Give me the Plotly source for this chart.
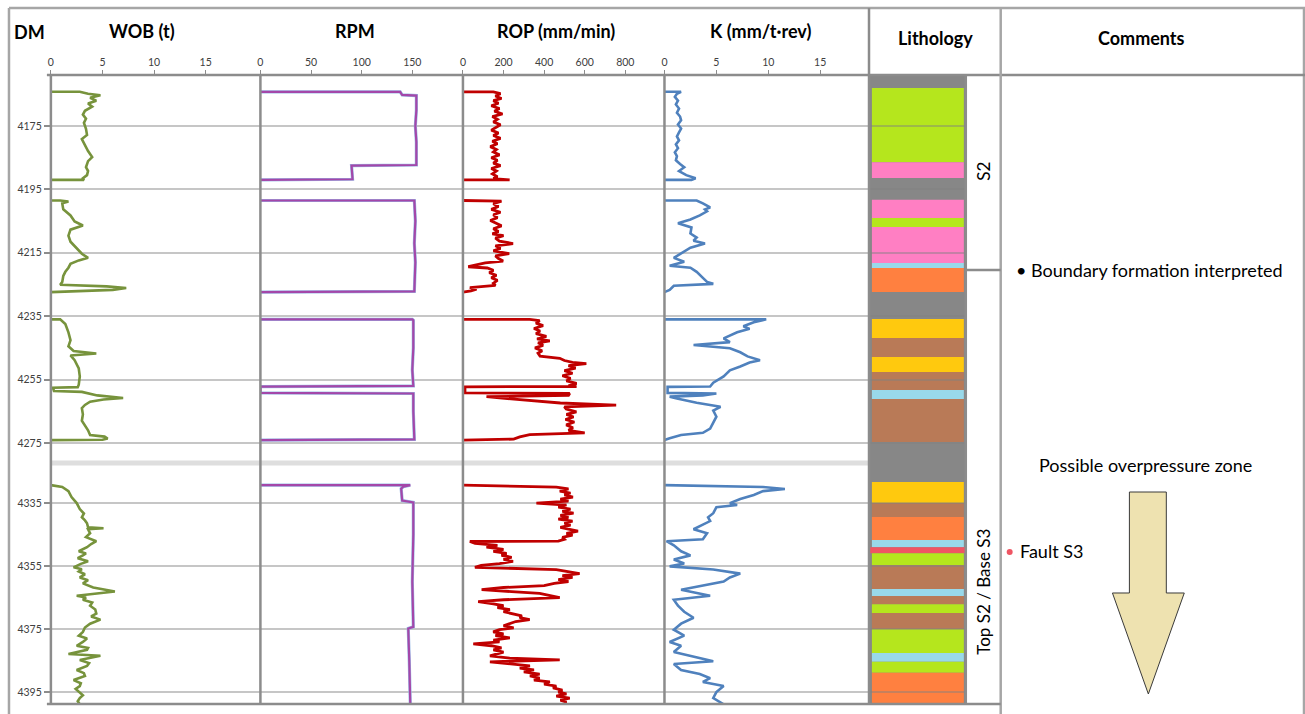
import plotly.graph_objects as go

W, H = 1305, 714
FONT = "Lato"

# ---------------------------------------------------------------------------
# Drilling parameters against measured depth (m). None separates drilled runs.
# ---------------------------------------------------------------------------
wob_md = [
    4164.2, 4164.2, 4164.8, 4165.3, 4166.1, 4167.0, 4167.9, 4168.9, 4170.2, 4171.4,
    4172.7, 4174.0, 4175.9, 4177.8, 4179.1, 4181.0, 4182.9, 4184.8, 4186.1, 4188.0,
    4189.2, 4190.5, 4191.5, 4192.0, 4192.0, None,
    4198.5, 4198.5, 4198.8, 4199.4, 4201.3, 4203.2, 4205.1, 4206.4, 4207.7, 4209.6,
    4211.5, 4213.4, 4215.3, 4216.6, 4217.4, 4218.5, 4219.7, 4221.0, 4222.3, 4224.2,
    4225.1, 4225.6, 4226.1, 4226.7, 4227.4, None,
    4236.0, 4236.0, 4237.5, 4240.1, 4242.6, 4244.5, 4246.0, 4246.8, 4247.4, 4248.9,
    4251.5, 4254.0, 4256.6, 4257.4, 4257.6, 4258.6, 4258.9, 4260.0, 4260.8, 4261.3,
    4262.0, 4263.0, 4264.0, 4266.0, 4268.0, 4269.5, 4271.0, 4272.5, 4273.0, 4273.6,
    4274.0, 4274.1, None,
    4329.3, 4329.9, 4331.2, 4333.1, 4335.0, 4336.9, 4338.3, 4339.5, 4340.5, 4341.4,
    4342.7, 4343.0, 4343.3, 4344.6, 4345.8, 4347.1, 4348.0, 4349.0, 4350.3, 4351.0,
    4351.6, 4352.5, 4353.5, 4354.3, 4355.4, 4356.0, 4356.7, 4357.6, 4358.6, 4359.5,
    4360.5, 4361.8, 4363.1, 4364.4, 4365.0, 4365.7, 4366.6, 4367.6, 4368.8, 4370.1,
    4371.0, 4372.0, 4373.3, 4374.5, 4375.9, 4377.1, 4378.0, 4379.1, 4380.3, 4381.0,
    4381.6, 4382.9, 4383.5, 4384.8, 4385.8, 4386.7, 4388.0, 4389.0, 4389.9, 4391.2,
    4392.2, 4393.1, 4394.0, 4395.0, 4396.0, 4396.9, 4397.9, 4398.9,
]
wob_t = [
    0, 2.8, 3.6, 4.8, 3.8, 4.4, 3.6, 4.0, 3.3, 3.1,
    3.4, 3.2, 3.4, 3.5, 3.0, 3.3, 3.6, 4.0, 3.6, 3.4,
    3.6, 3.5, 3.1, 3.2, 0, None,
    0, 0.9, 1.7, 1.1, 1.2, 1.9, 2.3, 3.1, 1.9, 1.7,
    1.9, 2.5, 3.0, 3.6, 2.7, 1.9, 1.7, 1.4, 1.2, 1.1,
    0.9, 5.4, 7.3, 6.0, 0, None,
    0, 0.9, 1.4, 1.7, 1.9, 1.7, 2.2, 4.4, 1.9, 2.3,
    2.7, 2.8, 2.7, 2.6, 0.2, 0.3, 3.0, 4.5, 7.0, 5.1,
    3.8, 3.3, 3.0, 3.1, 3.0, 3.3, 3.6, 3.8, 5.2, 5.5,
    5.0, 0, None,
    0, 1.1, 1.7, 2.0, 2.5, 2.8, 3.2, 3.0, 3.3, 3.5,
    3.6, 5.1, 3.6, 3.8, 3.4, 4.4, 3.9, 3.5, 2.7, 3.4,
    3.1, 2.6, 3.6, 2.9, 2.2, 3.0, 2.7, 3.3, 2.8, 3.6,
    3.1, 4.1, 6.2, 2.5, 3.4, 3.1, 4.0, 3.8, 4.3, 4.4,
    3.9, 4.8, 3.8, 3.3, 3.1, 2.7, 3.5, 3.1, 2.5, 3.6,
    3.5, 1.7, 4.8, 2.8, 3.7, 3.5, 2.5, 3.2, 3.3, 2.2,
    2.9, 2.8, 2.4, 2.7, 3.1, 2.8, 2.6, 2.8,
]

rpm_md = [
    4164.2, 4164.2, 4165.2, 4165.4, 4170.0, 4175.0, 4180.0, 4187.3, 4187.5, 4191.8, 4192.0, None,
    4198.5, 4198.5, 4205.0, 4212.0, 4218.0, 4226.0, 4227.2, 4227.4, None,
    4236.0, 4236.0, 4236.3, 4245.0, 4252.0, 4257.0, 4257.2, 4259.2, 4259.4, 4265.0, 4273.9, 4274.1, None,
    4329.3, 4329.3, 4329.8, 4330.4, 4334.2, 4334.8, 4345.0, 4360.0, 4374.3, 4374.8, 4385.0, 4398.9,
]
rpm = [
    0, 138, 140, 154, 154, 153, 154, 154, 90, 91, 0, None,
    0, 152, 153, 152, 153, 152, 152, 0, None,
    0, 150, 151, 151, 150, 151, 0, 0, 151, 151, 152, 0, None,
    0, 148, 141, 139, 140, 151, 151, 150, 151, 146, 147, 148,
]

rop_md = [
    4164.2, 4164.2, 4164.8, 4165.5, 4166.3, 4167.0, 4167.8, 4168.6, 4169.5, 4170.3,
    4171.2, 4172.0, 4172.9, 4173.7, 4174.6, 4175.5, 4176.3, 4177.2, 4178.0, 4178.9,
    4179.8, 4180.6, 4181.5, 4182.4, 4183.2, 4184.1, 4185.0, 4185.8, 4186.7, 4187.5,
    4188.4, 4189.2, 4190.1, 4191.0, 4191.6, 4192.0, 4192.0, None,
    4198.5, 4198.5, 4198.7, 4199.5, 4200.4, 4201.3, 4202.2, 4203.0, 4203.9, 4204.8,
    4205.7, 4206.5, 4207.4, 4208.3, 4209.0, 4209.6, 4210.4, 4211.3, 4212.1, 4212.8,
    4213.6, 4214.4, 4215.3, 4216.0, 4216.8, 4217.6, 4218.2, 4218.9, 4219.4, 4219.8,
    4220.5, 4221.3, 4222.1, 4222.9, 4223.7, 4224.6, 4225.3, 4226.0, 4226.5, 4227.0,
    4227.4, None,
    4236.0, 4236.0, 4236.4, 4237.2, 4238.0, 4238.9, 4239.7, 4240.5, 4241.4, 4242.2,
    4242.8, 4243.4, 4244.2, 4245.0, 4245.9, 4246.7, 4247.6, 4248.3, 4249.0, 4249.6,
    4250.0, 4250.6, 4251.4, 4252.2, 4253.0, 4253.8, 4254.6, 4255.4, 4256.2, 4257.0,
    4257.2, 4257.3, 4259.2, 4259.4, 4260.0, 4260.4, 4260.8, 4261.6, 4262.4, 4263.1,
    4263.6, 4264.3, 4265.2, 4266.0, 4266.8, 4267.6, 4268.4, 4269.3, 4270.2, 4271.0,
    4271.8, 4272.4, 4273.1, 4273.8, 4274.1, None,
    4329.3, 4329.5, 4329.9, 4330.5, 4331.2, 4331.8, 4332.4, 4333.1, 4333.7, 4334.4,
    4335.0, 4335.6, 4336.3, 4336.9, 4337.6, 4338.2, 4338.9, 4339.5, 4340.1, 4340.7,
    4341.4, 4342.0, 4342.7, 4343.3, 4343.9, 4344.6, 4345.2, 4345.9, 4346.5, 4347.1,
    4347.2, 4347.8, 4348.4, 4349.0, 4349.7, 4350.3, 4351.0, 4351.6, 4352.2, 4352.9,
    4353.5, 4354.2, 4354.8, 4355.4, 4356.1, 4356.7, 4357.4, 4358.0, 4358.6, 4359.3,
    4359.9, 4360.5, 4361.2, 4361.8, 4362.5, 4363.1, 4363.7, 4364.4, 4365.0, 4365.7,
    4366.3, 4367.0, 4367.6, 4368.2, 4368.8, 4369.5, 4370.1, 4370.8, 4371.4, 4372.0,
    4372.6, 4373.3, 4374.0, 4374.6, 4375.2, 4375.9, 4376.5, 4377.1, 4377.8, 4378.5,
    4379.1, 4379.7, 4380.3, 4381.0, 4381.6, 4382.3, 4382.9, 4383.5, 4384.2, 4384.8,
    4385.4, 4386.1, 4386.7, 4387.4, 4388.0, 4388.6, 4389.3, 4389.9, 4390.6, 4391.2,
    4391.8, 4392.5, 4393.1, 4393.7, 4394.4, 4395.0, 4395.6, 4396.3, 4396.9, 4397.6,
    4398.2, 4398.9,
]
rop = [
    0, 150, 185, 160, 190, 150, 175, 140, 180, 155,
    195, 145, 170, 150, 185, 160, 140, 175, 150, 185,
    145, 170, 135, 165, 150, 180, 140, 170, 150, 185,
    140, 165, 145, 170, 150, 230, 0, None,
    0, 140, 190, 150, 175, 140, 185, 150, 170, 135,
    165, 190, 150, 175, 145, 200, 160, 180, 247, 160,
    185, 150, 228, 160, 175, 198, 110, 59, 26, 120,
    150, 130, 165, 140, 170, 150, 160, 34, 67, 40,
    0, None,
    0, 329, 378, 360, 395, 350, 380, 360, 411, 365,
    428, 370, 395, 355, 390, 370, 380, 477, 500, 540,
    608, 520, 555, 500, 540, 490, 530, 510, 560, 520,
    560, 10, 10, 526, 520, 116, 180, 329, 480, 755,
    500, 509, 559, 510, 545, 505, 549, 509, 542, 520,
    600, 329, 280, 250, 0, None,
    0, 215, 460, 520, 477, 530, 500, 542, 480, 520,
    362, 510, 470, 530, 490, 545, 480, 520, 470, 540,
    500, 530, 480, 520, 567, 510, 540, 490, 500, 470,
    34, 60, 170, 116, 200, 150, 215, 190, 240, 200,
    247, 180, 90, 59, 460, 510, 575, 490, 540, 470,
    520, 450, 400, 200, 92, 240, 378, 430, 477, 200,
    75, 150, 200, 170, 231, 200, 250, 290, 280, 329,
    260, 230, 200, 250, 180, 149, 200, 160, 231, 150,
    180, 51, 140, 190, 150, 200, 160, 133, 230, 477,
    133, 250, 330, 280, 350, 300, 378, 330, 378, 350,
    428, 400, 460, 444, 490, 470, 510, 460, 526, 480,
    510, 490,
]

k_md = [
    4164.2, 4164.2, 4164.8, 4165.8, 4167.0, 4168.2, 4169.5, 4170.8, 4172.0, 4173.2,
    4174.5, 4175.8, 4177.0, 4178.3, 4179.5, 4180.8, 4182.0, 4183.3, 4184.5, 4185.8,
    4187.0, 4188.0, 4189.2, 4190.5, 4191.5, 4192.0, 4192.0, None,
    4198.5, 4198.5, 4199.4, 4200.7, 4201.3, 4201.9, 4203.2, 4204.5, 4205.7, 4207.0,
    4208.9, 4210.2, 4211.2, 4212.1, 4213.4, 4214.6, 4216.6, 4217.8, 4219.1, 4219.7,
    4221.0, 4222.9, 4224.2, 4224.8, 4225.4, 4226.7, 4227.4, None,
    4236.0, 4236.0, 4236.9, 4238.2, 4239.0, 4240.1, 4242.0, 4243.2, 4244.1, 4245.1,
    4246.4, 4247.7, 4248.9, 4249.6, 4250.9, 4252.1, 4254.0, 4256.0, 4257.2, 4257.3,
    4259.2, 4259.4, 4260.0, 4260.4, 4261.0, 4262.3, 4263.6, 4264.8, 4266.7, 4268.6,
    4270.5, 4271.8, 4272.5, 4273.5, 4274.1, None,
    4329.3, 4329.5, 4329.9, 4330.5, 4331.2, 4332.4, 4333.7, 4335.0, 4335.6, 4336.3,
    4338.2, 4339.5, 4340.7, 4342.0, 4342.7, 4343.3, 4344.6, 4346.5, 4347.1, 4348.4,
    4350.3, 4351.6, 4352.9, 4354.2, 4355.1, 4356.1, 4357.4, 4358.6, 4359.9, 4361.2,
    4362.5, 4364.4, 4365.7, 4367.6, 4369.5, 4371.4, 4373.3, 4375.2, 4377.1, 4379.1,
    4380.3, 4382.3, 4384.2, 4385.2, 4386.1, 4388.0, 4389.3, 4390.6, 4391.8, 4393.1,
    4395.0, 4396.9, 4398.9,
]
k_val = [
    0, 1.6, 1.2, 1.0, 1.3, 1.1, 1.4, 1.2, 1.5, 1.6,
    1.3, 1.6, 1.4, 1.2, 1.4, 1.1, 1.3, 1.0, 1.2, 1.1,
    1.5, 1.9, 1.4, 2.1, 3.0, 2.6, 0, None,
    0, 3.1, 3.7, 4.4, 3.9, 4.1, 3.4, 2.5, 1.3, 2.6,
    2.5, 3.1, 2.8, 3.9, 2.5, 1.9, 0.9, 1.9, 0.5, 2.5,
    3.1, 3.7, 4.1, 4.7, 0.9, 0.5, 0, None,
    0, 9.8, 8.6, 7.6, 8.2, 7.0, 5.7, 6.3, 2.8, 6.3,
    7.3, 8.0, 9.2, 8.2, 7.3, 6.3, 5.7, 4.7, 4.4, 0.3,
    0.3, 5.0, 3.7, 0.5, 1.2, 3.1, 5.4, 4.7, 5.0, 4.7,
    4.4, 3.7, 1.6, 0.5, 0, None,
    0, 4.1, 9.5, 11.6, 9.5, 8.6, 7.3, 6.3, 7.0, 5.0,
    4.7, 4.2, 4.4, 3.6, 3.1, 2.8, 4.1, 3.7, 0.2, 0.9,
    1.6, 2.5, 0.9, 1.9, 0.5, 4.7, 7.3, 6.3, 5.7, 3.7,
    1.6, 4.4, 0.9, 1.3, 1.9, 2.8, 1.6, 0.9, 1.9, 0.5,
    1.6, 0.9, 3.4, 4.7, 0.9, 1.6, 3.4, 4.4, 3.7, 5.7,
    5.0, 4.7, 5.7,
]

# Lithology column: interval top, base (m) and rock colour key
litho_top = [4163.0, 4186.4, 4198.3, 4204.0, 4206.9, 4218.2, 4219.8,
             4235.9, 4241.9, 4247.9, 4252.6, 4258.3, 4261.1,
             4328.3, 4335.0, 4339.4, 4346.7, 4349.0, 4350.9, 4354.7, 4362.3,
             4364.5, 4367.1, 4369.9, 4375.0, 4382.6, 4385.4, 4388.9]
litho_base = [4186.4, 4191.4, 4204.0, 4206.9, 4218.2, 4219.8, 4227.4,
              4241.9, 4247.9, 4252.6, 4258.3, 4261.1, 4274.7,
              4335.0, 4339.4, 4346.7, 4349.0, 4350.9, 4354.7, 4362.3, 4364.5,
              4367.1, 4369.9, 4375.0, 4382.6, 4385.4, 4388.9, 4398.5]
litho_kind = ["lime", "pink", "pink", "lime", "pink", "sky", "orange",
              "amber", "brown", "amber", "brown", "sky", "brown",
              "amber", "brown", "orange", "sky", "fault", "lime", "brown", "sky",
              "brown", "lime", "brown", "lime", "sky", "lime", "orange"]
litho_colors = {"lime": "#b5e61d", "pink": "#ff7fc3", "sky": "#99d9ea",
                "orange": "#ff8040", "amber": "#ffc90e", "brown": "#b97a57",
                "fault": "#ef5563"}

# Depth axis ticks of the two displayed intervals
upper_ticks = [4175, 4195, 4215, 4235, 4255, 4275]
lower_ticks = [4335, 4355, 4375, 4395]
upper_range = [4280.7, 4158.9]
lower_range = [4398.8, 4322.9]

# Curve tracks: title, axis range, ticks
tracks = [
    ("WOB (t)", [0, 20.3], [0, 5, 10, 15]),
    ("RPM", [0, 200], [0, 50, 100, 150]),
    ("ROP (mm/min)", [0, 993], [0, 200, 400, 600, 800]),
    ("K (mm/t·rev)", [0, 19.7], [0, 5, 10, 15]),
]

assert len(wob_md) == len(wob_t)
assert len(rpm_md) == len(rpm)
assert len(rop_md) == len(rop)
assert len(k_md) == len(k_val)
assert len(litho_top) == len(litho_base) == len(litho_kind)

# ---------------------------------------------------------------------------
# Layout geometry (pixels of the 1305 x 714 page)
# ---------------------------------------------------------------------------
EDGES = [48, 258, 461, 663, 868]
LITHO_R = 965
COMMENT_L = 1000
HEAD_B = 75
UP_B = 461
LO_T = 465
LO_B = 704
GRID = "rgba(128,128,128,0.45)"
FRAME = "#8c8c8c"


def fx(p):
    return p / W


def fy(p):
    return 1 - p / H


fig = go.Figure()


def add_curve(md, vals, color, width, track):
    up = "x" if track == 0 else f"x{track + 1}"
    lo = f"x{track + 5}"
    for xa, ya in ((up, "y"), (lo, "y2")):
        fig.add_trace(go.Scatter(x=vals, y=md, mode="lines", xaxis=xa, yaxis=ya,
                                 line=dict(color=color, width=width),
                                 connectgaps=False, hoverinfo="skip", showlegend=False))


add_curve(wob_md, wob_t, "#77933c", 2.6, 0)
add_curve(rpm_md, rpm, "#9bbbe6", 3.2, 1)
add_curve(rpm_md, rpm, "#a447a9", 2.2, 1)
add_curve(rop_md, rop, "#c00000", 2.8, 2)
add_curve(k_md, k_val, "#4f81bd", 2.6, 3)

# empty traces so the lithology subplots exist
for xa, ya, rng in (("x9", "y", upper_range), ("x10", "y2", lower_range)):
    fig.add_trace(go.Scatter(x=[0.5], y=[sum(rng) / 2], mode="markers", xaxis=xa, yaxis=ya,
                             marker=dict(opacity=0), hoverinfo="skip", showlegend=False))

layout = dict(
    width=W, height=H, margin=dict(l=0, r=0, t=0, b=0),
    paper_bgcolor="white", plot_bgcolor="rgba(0,0,0,0)",
    font=dict(family=FONT, color="#000"),
    showlegend=False,
)

tick_font = dict(family=FONT, size=10.5, color="#404040")
for i, (title, rng, tv) in enumerate(tracks):
    dom = [fx(EDGES[i]), fx(EDGES[i + 1])]
    up = "xaxis" if i == 0 else f"xaxis{i + 1}"
    layout[up] = dict(domain=dom, anchor="y", side="top", range=rng, tickvals=tv,
                      ticks="outside", ticklen=4, tickcolor=FRAME, tickwidth=1,
                      tickfont=tick_font, showgrid=False, zeroline=False, showline=False,
                      fixedrange=True)
    layout[f"xaxis{i + 5}"] = dict(domain=dom, anchor="y2", matches="x" if i == 0 else f"x{i + 1}",
                                   showticklabels=False, ticks="", showgrid=False,
                                   zeroline=False, showline=False)
for name, anchor in (("xaxis9", "y"), ("xaxis10", "y2")):
    layout[name] = dict(domain=[fx(EDGES[4]), fx(LITHO_R)], anchor=anchor, range=[0, 1],
                        showticklabels=False, ticks="", showgrid=False, zeroline=False,
                        showline=False)

ycommon = dict(ticks="outside", ticklen=6, tickcolor=FRAME, tickwidth=1.5,
               tickfont=tick_font, showgrid=True, gridcolor=GRID, gridwidth=1.5,
               zeroline=False, showline=False)
layout["yaxis"] = dict(domain=[fy(UP_B), fy(HEAD_B)], anchor="x", range=upper_range,
                       tickvals=upper_ticks, **ycommon)
layout["yaxis2"] = dict(domain=[fy(LO_B), fy(LO_T)], anchor="x5", range=lower_range,
                        tickvals=lower_ticks, **ycommon)

shapes = []


def pline(x0, y0, x1, y1, color=FRAME, width=2.5):
    shapes.append(dict(type="line", xref="paper", yref="paper", x0=fx(x0), y0=fy(y0),
                       x1=fx(x1), y1=fy(y1), line=dict(color=color, width=width),
                       layer="above"))


# lithology background
shapes.append(dict(type="rect", xref="paper", yref="paper", x0=fx(EDGES[4]), x1=fx(LITHO_R),
                   y0=fy(LO_B), y1=fy(HEAD_B), fillcolor="#878787", line=dict(width=0),
                   layer="below"))
# lithology intervals
for top, base, kind in zip(litho_top, litho_base, litho_kind):
    lower = top > 4300
    x0, x1 = (0.0, 1.0) if kind == "fault" else (0.03, 0.98)
    shapes.append(dict(type="rect", xref="x10" if lower else "x9", yref="y2" if lower else "y",
                       x0=x0, x1=x1, y0=top, y1=base, fillcolor=litho_colors[kind],
                       line=dict(width=0), layer="below"))

# depth break band
shapes.append(dict(type="rect", xref="paper", yref="paper", x0=fx(EDGES[0]), x1=fx(EDGES[4]),
                   y0=fy(465.5), y1=fy(460.5), fillcolor="#dedede", line=dict(width=0),
                   layer="above"))

# frame
pline(6, 8, 1305, 8, "#a6a6a6")
pline(6, 8, 6, 714, "#a6a6a6")
pline(1304, 8, 1304, 714, "#a6a6a6")
pline(44, HEAD_B, 1305, HEAD_B)
for e in EDGES[:4]:
    pline(e, HEAD_B, e, LO_B)
pline(EDGES[4], 8, EDGES[4], LO_B)
pline(COMMENT_L, 8, COMMENT_L, 714, "#a6a6a6")
pline(LITHO_R, HEAD_B, LITHO_R, LO_B)
pline(LITHO_R, 270, COMMENT_L, 270)
pline(44, LO_B, COMMENT_L, LO_B)

# overpressure arrow
arrow = [(1129, 492), (1166, 492), (1166, 593), (1184, 593), (1148, 694),
         (1112, 593), (1129, 593)]
path = "M " + " L ".join(f"{fx(a):.5f},{fy(b):.5f}" for a, b in arrow) + " Z"
shapes.append(dict(type="path", xref="paper", yref="paper", path=path,
                   fillcolor="#eee2b0", line=dict(color="#3a3a3a", width=1), layer="above"))
# fault marker
shapes.append(dict(type="circle", xref="paper", yref="paper", x0=fx(1006), x1=fx(1012),
                   y0=fy(555), y1=fy(549), fillcolor="#ef5563", line=dict(width=0)))
layout["shapes"] = shapes

annotations = []


def label(text, x, y, size=16, bold=False, anchor="center", angle=0, color="#000"):
    annotations.append(dict(text=f"<b>{text}</b>" if bold else text, xref="paper", yref="paper",
                            x=fx(x), y=fy(y), xanchor=anchor, yanchor="middle",
                            showarrow=False, textangle=angle,
                            font=dict(family=FONT, size=size, color=color)))


label("DM", 27, 32, 18, True)
for (title, _, _), cx in zip(tracks, [139, 353, 554, 759]):
    label(title, cx, 31, 18, True)
label("Lithology", 935, 38, 18, True)
label("Comments", 1141, 38, 18, True)
label("S2", 982, 171, 17, angle=-90)
label("Top S2 / Base S3", 982, 592, 17, angle=-90)
label("• Boundary formation interpreted", 1013, 270, 18, anchor="left")
label("Possible overpressure zone", 1145, 465, 18)
label("Fault S3", 1017, 551, 18, anchor="left")
layout["annotations"] = annotations

fig.update_layout(**layout)
fig.write_html("out.html")
